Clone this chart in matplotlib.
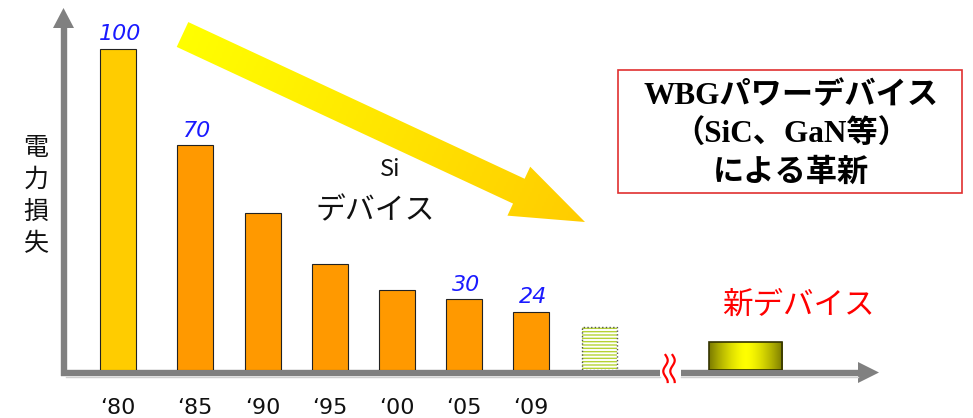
import numpy as np
import matplotlib
matplotlib.use('Agg')
from matplotlib import pyplot as plt
from matplotlib.patches import Polygon, Rectangle
from matplotlib.colors import to_rgb

# ---- Daten ----
years = ["\u201880", "\u201885", "\u201890", "\u201895", "\u201800", "\u201805", "\u201809"]
loss = [100, 70, 49, 33, 25, 22, 18]
loss_labels = ["100", "70", "", "", "", "30", "24"]
next_si = 13.4       # schraffierter Balken nach '09
new_device = 8.7     # neuer Baustein (WBG)

# Lage der Balken (Einheiten auf der x-Achse)
xpos = [0, 1.15, 2.16, 3.16, 4.16, 5.16, 6.16]
x_next = 7.19
x_new = 9.36

plt.rcParams['font.family'] = ['Noto Sans CJK JP', 'DejaVu Sans']

fig = plt.figure(figsize=(9.73, 4.18), dpi=100)
W, H = 973, 418

# ---- Hauptachse ----
ax = fig.add_axes([64 / W, (H - 370) / H, (880 - 64) / W, (370 - 8) / H])
ax.set_xlim(-0.806, 11.37)
ax.set_ylim(0, 112.8)
for s in ax.spines.values():
    s.set_visible(False)
ax.set_yticks([])
ax.patch.set_alpha(0)

colors = ['#ffcc00'] + ['#ff9900'] * (len(loss) - 1)
ax.bar(xpos, loss, width=0.54, color=colors, edgecolor='#222222', linewidth=0.8, zorder=3)
for x, v, t in zip(xpos, loss, loss_labels):
    if t:
        ax.text(x + 0.03, v + 1.5, t, ha='center', va='bottom', color='#1a1aff',
                fontsize=16, style='italic', family=['DejaVu Sans'])

# schraffierter Balken
matplotlib.rcParams['hatch.linewidth'] = 1.0
ax.bar(x_next, next_si, width=0.52, color='white', edgecolor='#b5d334',
       hatch='-----', linewidth=0, zorder=3)
ax.bar(x_next, next_si, width=0.52, fill=False, edgecolor='#555555',
       linestyle=':', linewidth=1.0, zorder=4)

# neuer Baustein mit Verlauf
nb = ax.bar(x_new, new_device, width=1.09, fill=False, edgecolor='#333300',
            linewidth=1.2, zorder=5)[0]
g = np.abs(np.linspace(-1, 1, 200))
c0, c1 = np.array(to_rgb('#ffff00')), np.array(to_rgb('#7a7a00'))
grad = (1 - g[:, None] ** 1.5) * c0 + g[:, None] ** 1.5 * c1
img = ax.imshow(np.tile(grad[None, :, :], (2, 1, 1)), aspect='auto',
                extent=(x_new - 0.545, x_new + 0.545, 0, new_device), zorder=4)
img.set_clip_path(nb)
ax.set_xlim(-0.806, 11.37)
ax.set_ylim(0, 112.8)

ax.set_xticks(xpos, years)
ax.tick_params(axis='x', length=0, pad=20, labelsize=16)
for lab in ax.get_xticklabels():
    lab.set_family(['DejaVu Sans'])
    lab.set_color('#111111')

# ---- Overlay fuer Pfeile und Texte (Pixel) ----
ov = fig.add_axes([0, 0, 1, 1], zorder=-1)
ov.set_xlim(0, W)
ov.set_ylim(H, 0)
ov.axis('off')

gray = '#808080'
# y-Achse
ov.plot([63.5, 63.5], [376, 26], color=gray, lw=4.6, solid_capstyle='butt')
ov.add_patch(Polygon([(53, 28), (74, 28), (63.5, 8)], color=gray, lw=0))
# x-Achse mit Bruch
ov.plot([61, 660], [372.5, 372.5], color=gray, lw=4.6, solid_capstyle='butt')
ov.plot([681, 860], [372.5, 372.5], color=gray, lw=4.6, solid_capstyle='butt')
ov.plot([66, 660], [376.5, 376.5], color='#d0d0d0', lw=1)
ov.plot([681, 858], [376.5, 376.5], color='#d0d0d0', lw=1)
ov.add_patch(Polygon([(858, 362), (858, 383), (879, 372.5)], color=gray, lw=0))
# Bruchzeichen
tt = np.linspace(0, 1, 60)
for x0 in (665.5, 672.5):
    ov.plot(x0 + 2.2 * np.sin(tt * 2 * np.pi * 1.25), 355 + 27 * tt, color='red', lw=1.6)

# grosser gelber Pfeil
S = np.array([182.5, 34.5])
T = np.array([585.0, 222.0])
u = (T - S) / np.linalg.norm(T - S)
n = np.array([-u[1], u[0]])
L = np.linalg.norm(T - S)
hb = S + u * (L - 73)
pts = [S + 13.7 * n, hb + 13.7 * n, hb + 27 * n, T, hb - 27 * n, hb - 13.7 * n, S - 13.7 * n]
arrow = Polygon(pts, closed=True, fc='none', ec='none')
ov.add_patch(arrow)
xx, yy = np.meshgrid(np.linspace(160, 600, 220), np.linspace(0, 240, 120))
tpos = np.clip(((xx - S[0]) * u[0] + (yy - S[1]) * u[1]) / L, 0, 1)
ca, cb = np.array(to_rgb('#ffff00')), np.array(to_rgb('#ffcc00'))
rgb = (1 - tpos[..., None]) * ca + tpos[..., None] * cb
im2 = ov.imshow(rgb, extent=(160, 600, 240, 0), aspect='auto', zorder=2)
im2.set_clip_path(arrow)
ov.set_xlim(0, W)
ov.set_ylim(H, 0)

# Texte
ov.text(36, 196, "電\n力\n損\n失", ha='center', va='center', fontsize=18,
        linespacing=1.3, color='#111111')
ov.text(390, 170, "Si", ha='center', va='center', fontsize=17, color='#111111')
ov.text(375, 211, "デバイス", ha='center', va='center', fontsize=21.5, color='#111111')
ov.text(798, 305, "新デバイス", ha='center', va='center', fontsize=22, color='#ff0000')

ov.add_patch(Rectangle((618, 70), 344, 123, fill=False, ec='#e03030', lw=1.2))
bold_fam = ['Liberation Serif', 'Noto Sans CJK JP']
ov.text(791, 96, "WBGパワーデバイス", ha='center', va='center', fontsize=22.5,
        weight='bold', family=bold_fam)
ov.text(791, 135, "（SiC、GaN等）", ha='center', va='center', fontsize=22.5,
        weight='bold', family=bold_fam)
ov.text(791, 173, "による革新", ha='center', va='center', fontsize=22.5,
        weight='bold', family=bold_fam)

fig.savefig('out.png', dpi=100)
